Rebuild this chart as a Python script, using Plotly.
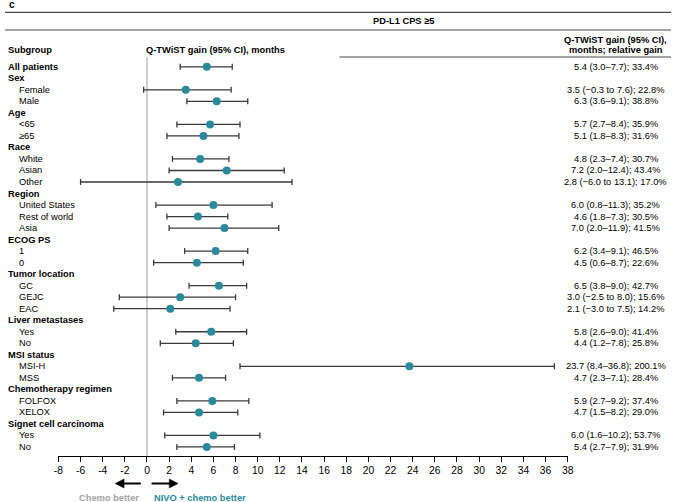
import plotly.graph_objects as go

W, H = 677, 502

# ---------------- data ----------------
row_labels = ["All patients", "Sex", "Female", "Male", "Age", "<65", "≥65",
              "Race", "White", "Asian", "Other", "Region", "United States",
              "Rest of world", "Asia", "ECOG PS", "1", "0", "Tumor location",
              "GC", "GEJC", "EAC", "Liver metastases", "Yes", "No",
              "MSI status", "MSI-H", "MSS", "Chemotherapy regimen", "FOLFOX",
              "XELOX", "Signet cell carcinoma", "Yes", "No"]
row_is_header = [1, 1, 0, 0, 1, 0, 0,
                 1, 0, 0, 0, 1, 0,
                 0, 0, 1, 0, 0, 1,
                 0, 0, 0, 1, 0, 0,
                 1, 0, 0, 1, 0,
                 0, 1, 0, 0]
est = [5.4, None, 3.5, 6.3, None, 5.7, 5.1,
       None, 4.8, 7.2, 2.8, None, 6.0,
       4.6, 7.0, None, 6.2, 4.5, None,
       6.5, 3.0, 2.1, None, 5.8, 4.4,
       None, 23.7, 4.7, None, 5.9,
       4.7, None, 6.0, 5.4]
lo = [3.0, None, -0.3, 3.6, None, 2.7, 1.8,
      None, 2.3, 2.0, -6.0, None, 0.8,
      1.8, 2.0, None, 3.4, 0.6, None,
      3.8, -2.5, -3.0, None, 2.6, 1.2,
      None, 8.4, 2.3, None, 2.7,
      1.5, None, 1.6, 2.7]
hi = [7.7, None, 7.6, 9.1, None, 8.4, 8.3,
      None, 7.4, 12.4, 13.1, None, 11.3,
      7.3, 11.9, None, 9.1, 8.7, None,
      9.0, 8.0, 7.5, None, 9.0, 7.8,
      None, 36.8, 7.1, None, 9.2,
      8.2, None, 10.2, 7.9]
rel = [33.4, None, 22.8, 38.8, None, 35.9, 31.6,
       None, 30.7, 43.4, 17.0, None, 35.2,
       30.5, 41.5, None, 46.5, 22.6, None,
       42.7, 15.6, 14.2, None, 41.4, 25.8,
       None, 200.1, 28.4, None, 37.4,
       29.0, None, 53.7, 31.9]
x_ticks = list(range(-8, 39, 2))

TEAL = "#2b8a9a"
FONT = "Liberation Sans, Arial, sans-serif"


def px(x):
    return x / W


def py(y):
    return 1 - y / H


def fmt(v):
    return f"{v:.1f}".replace("-", "−")


def ci_text(e, l, h, r):
    if l < 0:
        return f"{fmt(e)} ({fmt(l)} to {fmt(h)}); {r:.1f}%"
    return f"{fmt(e)} ({fmt(l)}–{fmt(h)}); {r:.1f}%"


# ---------------- geometry ----------------
row0_px, row_step = 66.8, 11.52
plot_top, plot_bot = 57.0, 456.0
x_left_px, x_right_px = 54.3, 572.0
y_top_val = (plot_top - row0_px) / row_step
y_bot_val = (plot_bot - row0_px) / row_step

idx = [i for i, e in enumerate(est) if e is not None]
xs = [est[i] for i in idx]
ys = [i for i in idx]
plus = [hi[i] - est[i] for i in idx]
minus = [est[i] - lo[i] for i in idx]

fig = go.Figure()
fig.add_trace(go.Scatter(
    x=xs, y=ys, mode="markers",
    marker=dict(color=TEAL, size=8, line=dict(width=0)),
    error_x=dict(type="data", symmetric=False, array=plus, arrayminus=minus,
                 color="#3a3a3a", thickness=1.3, width=3),
    showlegend=False, hoverinfo="skip"))

shapes = []
# zero line
shapes.append(dict(type="line", xref="x", yref="paper", x0=0, x1=0,
                   y0=py(plot_bot), y1=py(plot_top),
                   line=dict(color="#c4c4c4", width=1.6), layer="below"))
# header rules
for (x0, x1, y) in [(0, W, 12.3), (0, W, 30.0), (340, W, 57.0)]:
    shapes.append(dict(type="line", xref="paper", yref="paper",
                       x0=px(x0), x1=px(x1), y0=py(y), y1=py(y),
                       line=dict(color="#4a4a4a", width=1.2)))
# arrows
ay = 483.5
shapes.append(dict(type="line", xref="paper", yref="paper",
                   x0=px(138), x1=px(119), y0=py(ay), y1=py(ay),
                   line=dict(color="black", width=2)))
shapes.append(dict(type="path", xref="paper", yref="paper",
                   path=f"M {px(112)} {py(ay)} L {px(121)} {py(ay-4.5)} L {px(121)} {py(ay+4.5)} Z",
                   fillcolor="black", line=dict(color="black", width=0.5)))
shapes.append(dict(type="line", xref="paper", yref="paper",
                   x0=px(149), x1=px(169), y0=py(ay), y1=py(ay),
                   line=dict(color="black", width=2)))
shapes.append(dict(type="path", xref="paper", yref="paper",
                   path=f"M {px(176)} {py(ay)} L {px(167)} {py(ay-4.5)} L {px(167)} {py(ay+4.5)} Z",
                   fillcolor="black", line=dict(color="black", width=0.5)))

ann = []


def add_text(text, x, y, xanchor="left", bold=False, color="black", size=9.3, yref="paper"):
    ann.append(dict(text=f"<b>{text}</b>" if bold else text,
                    x=x, y=y, xref="paper", yref=yref,
                    xanchor=xanchor, yanchor="middle", showarrow=False,
                    font=dict(family=FONT, size=size, color=color)))


add_text("c", px(2), py(5), bold=True, size=10)
add_text("PD-L1 CPS ≥5", px(405), py(21), xanchor="center", bold=True)
add_text("Subgroup", px(1), py(49.5), bold=True)
add_text("Q-TWiST gain (95% CI), months", px(141), py(49.5), bold=True)
add_text("Q-TWiST gain (95% CI),", px(621), py(40), xanchor="center", bold=True)
add_text("months; relative gain", px(621), py(50), xanchor="center", bold=True)

for i, lab in enumerate(row_labels):
    if row_is_header[i]:
        add_text(lab, px(1), i, bold=True, yref="y")
    else:
        add_text(lab, px(12), i, yref="y")
    if est[i] is not None:
        add_text(ci_text(est[i], lo[i], hi[i], rel[i]), px(621), i,
                 xanchor="center", yref="y")

add_text("Chemo better", px(138), py(498), xanchor="right", bold=True, color="#a3a3a3")
add_text("NIVO + chemo better", px(149), py(498), bold=True, color=TEAL)

fig.update_layout(
    width=W, height=H, margin=dict(l=0, r=0, t=0, b=0),
    paper_bgcolor="white", plot_bgcolor="white",
    shapes=shapes, annotations=ann,
    xaxis=dict(domain=[px(x_left_px), px(x_right_px)], range=[-8, 38],
               tickvals=x_ticks, ticktext=[str(t) for t in x_ticks],
               showgrid=False, zeroline=False, showline=True,
               linecolor="black", linewidth=1, ticks="outside",
               ticklen=5, tickwidth=1, tickcolor="black",
               tickfont=dict(family=FONT, size=10.3, color="black")),
    yaxis=dict(domain=[py(plot_bot), py(plot_top)],
               range=[y_bot_val, y_top_val], showgrid=False,
               zeroline=False, showticklabels=False, showline=False,
               ticks=""),
)

fig.write_html(
    "out.html",
    config={"displayModeBar": False},
    post_script="document.body.style.margin='0';document.body.style.padding='0';"
                "document.body.style.overflow='hidden';",
)
